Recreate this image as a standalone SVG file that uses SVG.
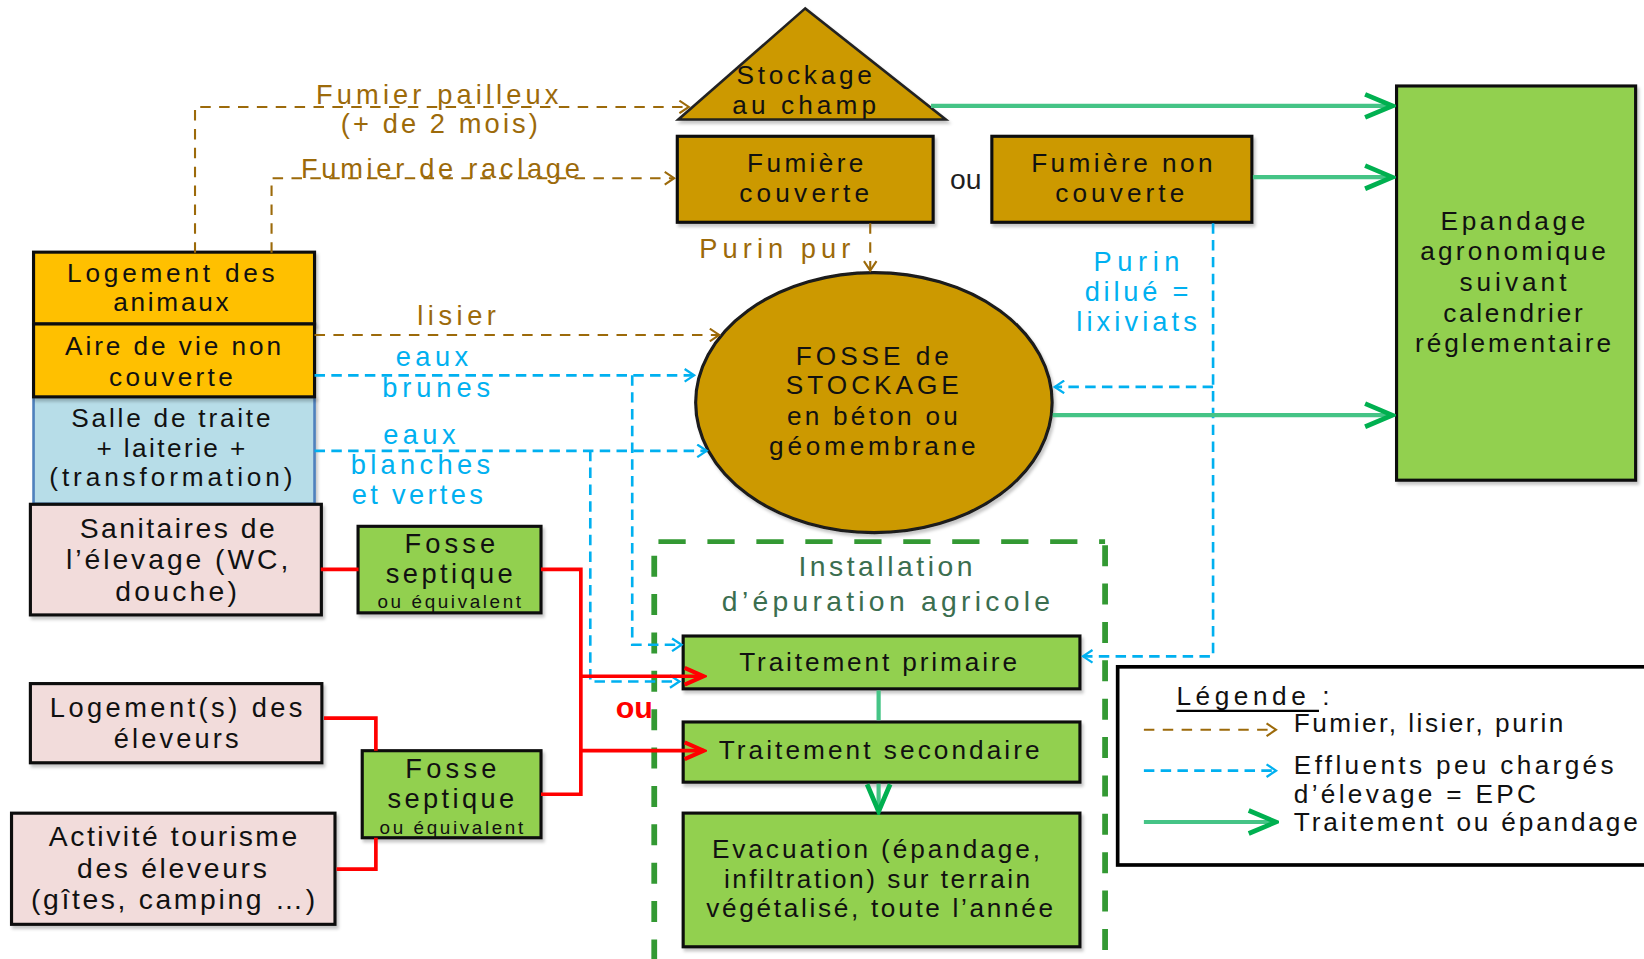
<svg xmlns="http://www.w3.org/2000/svg" width="1644" height="959" viewBox="0 0 1644 959">
<defs>
<style>
text { font-family: "Liberation Sans", Arial, sans-serif; }
.t { font-size: 25px; fill: #111; text-anchor: middle; }
.tb { font-size: 27px; fill: #111; text-anchor: middle; }
.tf { font-size: 26px; fill: #111; text-anchor: middle; }
.ts { font-size: 18px; fill: #111; text-anchor: middle; font-family: "Liberation Sans Narrow", "Liberation Sans", sans-serif; }
.lg { font-size: 25px; fill: #111; }
.br { font-size: 26px; fill: #9C6A0A; text-anchor: middle; }
.bl { font-size: 26px; fill: #00B0F0; text-anchor: middle; }
.ins { font-size: 27px; fill: #3B6E4F; text-anchor: middle; }
.ou { font-size: 29px; fill: #FF0000; font-weight: bold; text-anchor: middle; }
.box { stroke: #111; stroke-width: 3; filter: url(#sh); }
.ochre { fill: #CC9900; }
.yel { fill: #FFC000; }
.pink { fill: #F2DCDB; }
.grn { fill: #92D050; }
.cb { fill: none; stroke: #9C6A0A; stroke-width: 2; stroke-dasharray: 10 8; }
.cu { fill: none; stroke: #00B0F0; stroke-width: 2.5; stroke-dasharray: 10 6; }
.cg { fill: none; stroke: #45C486; stroke-width: 4; }
.cr { fill: none; stroke: #FF0000; stroke-width: 3.5; }
.gd { fill: none; stroke: #339933; }
</style>
<filter id="sh" x="-5%" y="-5%" width="115%" height="120%">
<feDropShadow dx="2" dy="3" stdDeviation="1.5" flood-color="#000" flood-opacity="0.22"/>
</filter>
<marker id="mb" markerUnits="userSpaceOnUse" markerWidth="14" markerHeight="14" refX="11" refY="7" orient="auto">
<path d="M2,1 L11,7 L2,13" fill="none" stroke="#9C6A0A" stroke-width="2"/>
</marker>
<marker id="mu" markerUnits="userSpaceOnUse" markerWidth="14" markerHeight="14" refX="11" refY="7" orient="auto">
<path d="M2,1 L11,7 L2,13" fill="none" stroke="#00B0F0" stroke-width="2.2"/>
</marker>
<marker id="mg" markerUnits="userSpaceOnUse" markerWidth="32" markerHeight="28" refX="29" refY="14" orient="auto">
<path d="M3,3 L29,14 L3,25" fill="none" stroke="#00B050" stroke-width="4.5"/>
</marker>
<marker id="mr" markerUnits="userSpaceOnUse" markerWidth="24" markerHeight="22" refX="21" refY="11" orient="auto">
<path d="M3,3 L21,11 L3,19" fill="none" stroke="#FF0000" stroke-width="4"/>
</marker>
</defs>
<rect width="1644" height="959" fill="#fff"/>
<g transform="scale(1.04847)">

<g id="installation-frame">
<path class="gd" d="M628,516.6 H1054" stroke-width="4.5" stroke-dasharray="26 20.7"/>
<path class="gd" d="M624,530 V915" stroke-width="5.5" stroke-dasharray="20 16.6"/>
<path class="gd" d="M1054,520 V915" stroke-width="5.5" stroke-dasharray="20 16.6"/>
<text class="ins" x="844.5" y="549" textLength="166" lengthAdjust="spacing">Installation</text>
<text class="ins" x="845" y="583" textLength="313" lengthAdjust="spacing">d’épuration agricole</text>
</g>

<g id="stockage-champ">
<polygon points="768,8 647,114 902,114" fill="#CC9900" stroke="#222" stroke-width="2.5" stroke-linejoin="miter" filter="url(#sh)"/>
<text class="t" x="767" y="80" textLength="129" lengthAdjust="spacing">Stockage</text>
<text class="t" x="767" y="109" textLength="137" lengthAdjust="spacing">au champ</text>
</g>

<g id="fumiere-couverte">
<rect class="box ochre" x="646" y="130" width="244" height="82"/>
<text class="t" x="768" y="164" textLength="111" lengthAdjust="spacing">Fumière</text>
<text class="t" x="767" y="193" textLength="124" lengthAdjust="spacing">couverte</text>
</g>

<g id="fumiere-non-couverte">
<rect class="box ochre" x="946" y="130" width="248" height="82"/>
<text class="t" x="1070" y="164" textLength="173" lengthAdjust="spacing">Fumière non</text>
<text class="t" x="1068" y="193" textLength="123" lengthAdjust="spacing">couverte</text>
</g>

<g id="epandage">
<rect class="box grn" x="1332" y="82" width="228" height="376"/>
<text class="t" x="1443" y="219" textLength="138" lengthAdjust="spacing">Epandage</text>
<text class="t" x="1443" y="248" textLength="177" lengthAdjust="spacing">agronomique</text>
<text class="t" x="1443" y="278" textLength="102" lengthAdjust="spacing">suivant</text>
<text class="t" x="1443" y="307" textLength="133" lengthAdjust="spacing">calendrier</text>
<text class="t" x="1443" y="336" textLength="187" lengthAdjust="spacing">réglementaire</text>
</g>

<g id="fosse-stockage">
<ellipse cx="833.5" cy="384" rx="170" ry="124" fill="#CC9900" stroke="#1a1a1a" stroke-width="3" filter="url(#sh)"/>
<text class="t" x="832" y="348" textLength="146" lengthAdjust="spacing">FOSSE de</text>
<text class="t" x="832" y="376" textLength="165" lengthAdjust="spacing">STOCKAGE</text>
<text class="t" x="832" y="405" textLength="163" lengthAdjust="spacing">en béton ou</text>
<text class="t" x="832" y="434" textLength="197" lengthAdjust="spacing">géomembrane</text>
</g>

<g id="batiments-elevage">
<rect x="32" y="378.5" width="268" height="102" fill="#B7DDE8" stroke="#4F81BD" stroke-width="2.5" filter="url(#sh)"/>
<rect class="box yel" x="32" y="240.5" width="268" height="68.5"/>
<rect class="box yel" x="32" y="309" width="268" height="69.5"/>
<text class="t" x="163" y="269" textLength="198" lengthAdjust="spacing">Logement des</text>
<text class="t" x="163" y="297" textLength="110" lengthAdjust="spacing">animaux</text>
<text class="t" x="165" y="339" textLength="206" lengthAdjust="spacing">Aire de  vie non</text>
<text class="t" x="163" y="368" textLength="118" lengthAdjust="spacing">couverte</text>
<text class="t" x="163" y="407" textLength="190" lengthAdjust="spacing">Salle de traite</text>
<text class="t" x="163" y="436" textLength="142" lengthAdjust="spacing">+ laiterie +</text>
<text class="t" x="163" y="464" textLength="232" lengthAdjust="spacing">(transformation)</text>
</g>

<g id="sanitaires">
<rect class="box pink" x="29" y="481" width="277.5" height="105.5"/>
<text class="tb" x="169" y="513" textLength="186" lengthAdjust="spacing">Sanitaires de</text>
<text class="tb" x="169" y="543" textLength="212" lengthAdjust="spacing">l’élevage (WC,</text>
<text class="tb" x="168" y="573" textLength="116" lengthAdjust="spacing">douche)</text>
</g>

<g id="fosse-septique-1">
<rect class="box grn" x="341.5" y="502" width="174.5" height="82.5"/>
<text class="tf" x="429" y="527" textLength="86.5" lengthAdjust="spacing">Fosse</text>
<text class="tf" x="428.5" y="556" textLength="121" lengthAdjust="spacing">septique</text>
<text class="ts" x="428.5" y="580" textLength="137" lengthAdjust="spacing">ou équivalent</text>
</g>

<g id="logement-eleveurs">
<rect class="box pink" x="29" y="652" width="278" height="75.5"/>
<text class="tf" x="168" y="684" textLength="241" lengthAdjust="spacing">Logement(s) des</text>
<text class="tf" x="168" y="713" textLength="119" lengthAdjust="spacing">éleveurs</text>
</g>

<g id="fosse-septique-2">
<rect class="box grn" x="345.5" y="716" width="170.5" height="83"/>
<text class="tf" x="430" y="742" textLength="87" lengthAdjust="spacing">Fosse</text>
<text class="tf" x="430" y="771" textLength="121" lengthAdjust="spacing">septique</text>
<text class="ts" x="430.5" y="795" textLength="137" lengthAdjust="spacing">ou équivalent</text>
</g>

<g id="activite-tourisme">
<rect class="box pink" x="11" y="775.6" width="308.5" height="106"/>
<text class="tb" x="165" y="807" textLength="237" lengthAdjust="spacing">Activité tourisme</text>
<text class="tb" x="164" y="837" textLength="181" lengthAdjust="spacing">des éleveurs</text>
<text class="tb" x="165" y="867" textLength="271" lengthAdjust="spacing">(gîtes, camping …)</text>
</g>

<g id="traitement-primaire">
<rect class="box grn" x="651.6" y="606.6" width="378.4" height="50.4"/>
<text class="t" x="837.5" y="640" textLength="265" lengthAdjust="spacing">Traitement  primaire</text>
</g>

<g id="traitement-secondaire">
<rect class="box grn" x="651.6" y="688.6" width="378.4" height="57.4"/>
<text class="t" x="838.5" y="724" textLength="306" lengthAdjust="spacing">Traitement  secondaire</text>
</g>

<g id="evacuation">
<rect class="box grn" x="651.6" y="775.5" width="378.4" height="127.5"/>
<text class="t" x="835.5" y="818" textLength="313" lengthAdjust="spacing">Evacuation (épandage,</text>
<text class="t" x="836.5" y="847" textLength="292" lengthAdjust="spacing">infiltration) sur terrain</text>
<text class="t" x="839" y="875" textLength="331" lengthAdjust="spacing">végétalisé, toute l’année</text>
</g>

<g id="legende">
<rect x="1066" y="636" width="540" height="189" fill="#fff" stroke="#000" stroke-width="3.5"/>
<text class="lg" x="1122" y="672" textLength="146" lengthAdjust="spacing">Légende :</text>
<line x1="1122" y1="678" x2="1258" y2="678" stroke="#000" stroke-width="2.2"/>
<path class="cb" d="M1091,696 H1217" marker-end="url(#mb)"/>
<text class="lg" x="1234" y="698" textLength="257" lengthAdjust="spacing">Fumier, lisier, purin</text>
<path class="cu" d="M1091,735 H1217" marker-end="url(#mu)"/>
<text class="lg" x="1234" y="738" textLength="305" lengthAdjust="spacing">Effluents peu chargés</text>
<text class="lg" x="1234" y="766" textLength="231" lengthAdjust="spacing">d’élevage = EPC</text>
<path class="cg" d="M1091,784 H1217" marker-end="url(#mg)"/>
<text class="lg" x="1234" y="793" textLength="328" lengthAdjust="spacing">Traitement ou épandage</text>
</g>

<g id="connectors">
<path class="cb" d="M186,241 V102 H657" marker-end="url(#mb)"/>
<path class="cb" d="M259,241 V170 H643" marker-end="url(#mb)"/>
<path class="cb" d="M830,213 V258" marker-end="url(#mb)"/>
<path class="cb" d="M300,319.5 H686" marker-end="url(#mb)"/>
<path class="cu" d="M300,358 H662" marker-end="url(#mu)"/>
<path class="cu" d="M300,430 H674" marker-end="url(#mu)"/>
<path class="cu" d="M603,358 V615 H650" marker-end="url(#mu)"/>
<path class="cu" d="M563,430 V650 H648" marker-end="url(#mu)"/>
<path class="cu" d="M1157,213 V626 H1033" marker-end="url(#mu)"/>
<path class="cu" d="M1157,369 H1006" marker-end="url(#mu)"/>
<path class="cg" d="M888,101 H1328" marker-end="url(#mg)"/>
<path class="cg" d="M1195,169 H1328" marker-end="url(#mg)"/>
<path class="cg" d="M1004,396 H1328" marker-end="url(#mg)"/>
<path class="cg" d="M838,658.5 V687"/>
<path class="cg" d="M838,747.5 V774" marker-end="url(#mg)"/>
<path class="cr" d="M306,543 H342"/>
<path class="cr" d="M516,543 H554 V757.5 H516"/>
<path class="cr" d="M554,645 H671" marker-end="url(#mr)"/>
<path class="cr" d="M554,716 H671" marker-end="url(#mr)"/>
<path class="cr" d="M309,685 H358.5 V716"/>
<path class="cr" d="M321,829 H358.5 V799"/>
<text class="br" x="417" y="99" textLength="231" lengthAdjust="spacing">Fumier pailleux</text>
<text class="br" x="419" y="127" textLength="188" lengthAdjust="spacing">(+ de 2 mois)</text>
<text class="br" x="420" y="170" textLength="266" lengthAdjust="spacing">Fumier de raclage</text>
<text class="br" x="739" y="246" textLength="144" lengthAdjust="spacing">Purin pur</text>
<text class="br" x="435.5" y="310" textLength="75" lengthAdjust="spacing">lisier</text>
<text class="bl" x="412" y="349" textLength="69" lengthAdjust="spacing">eaux</text>
<text class="bl" x="416" y="379" textLength="103" lengthAdjust="spacing">brunes</text>
<text class="bl" x="400" y="423" textLength="69" lengthAdjust="spacing">eaux</text>
<text class="bl" x="401" y="452" textLength="133" lengthAdjust="spacing">blanches</text>
<text class="bl" x="398" y="481" textLength="125" lengthAdjust="spacing">et vertes</text>
<text class="bl" x="1084" y="258" textLength="82" lengthAdjust="spacing">Purin</text>
<text class="bl" x="1084" y="287" textLength="99" lengthAdjust="spacing">dilué =</text>
<text class="bl" x="1084" y="316" textLength="115" lengthAdjust="spacing">lixiviats</text>
<text x="921" y="180" font-size="27" fill="#1f1f1f" text-anchor="middle">ou</text>
<text class="ou" x="605" y="685">ou</text>
</g>

</g>
</svg>
